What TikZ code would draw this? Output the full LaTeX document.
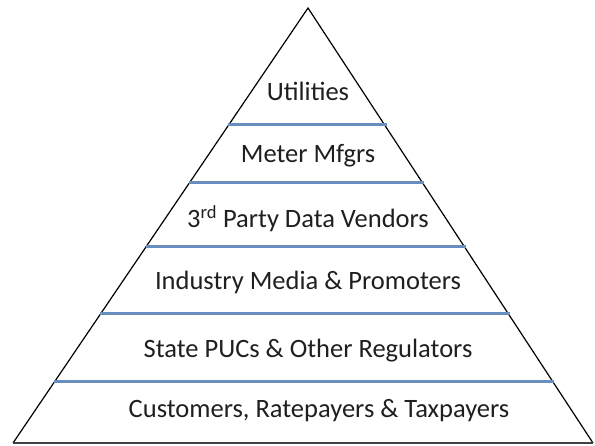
\documentclass[tikz,border=0pt]{standalone}
\usepackage{fontspec}
\setmainfont{Carlito}
\usetikzlibrary{calc}
\definecolor{tierblue}{RGB}{104,142,192}

\begin{document}
\begin{tikzpicture}[x=1pt,y=-1pt,
    tier/.style={font=\fontsize{26.5}{30}\selectfont, text=black!88},
    sep/.style={tierblue, line width=3pt}]
      \useasboundingbox (0,0) rectangle (595,445);
      \coordinate (top) at (308,8);
      \coordinate (bl) at (13,443);
      \coordinate (br) at (593,443);
      \draw [line width=1.2pt] (bl) -- (top) -- (br);
      \draw [line width=1.8pt, black!75] (bl) -- (br);

      % separators between the tiers
      \foreach \y/\n in {125/a, 182/b, 246/c, 313/d, 381/e} {
        \coordinate (l\n) at ($(top)!{(\y-8)/435}!(bl)$);
        \coordinate (r\n) at ($(top)!{(\y-8)/435}!(br)$);
        \draw [sep] ($(l\n)+(-1,0)$) -- ($(r\n)+(2,0)$);
      }

      \node (util) [tier] at (308,91) {Utilities};
      \node (meter) [tier] at (308,156) {Meter Mfgrs};
      \node (vend) [tier] at (308,219) {3\textsuperscript{rd} Party Data Vendors};
      \node (media) [tier] at (308,282) {Industry Media \& Promoters};
      \node (puc) [tier] at (308,351) {State PUCs \& Other Regulators};
      \node (cust) [tier] at (319,411) {Customers, Ratepayers \& Taxpayers};
    \end{tikzpicture}
\end{document}
